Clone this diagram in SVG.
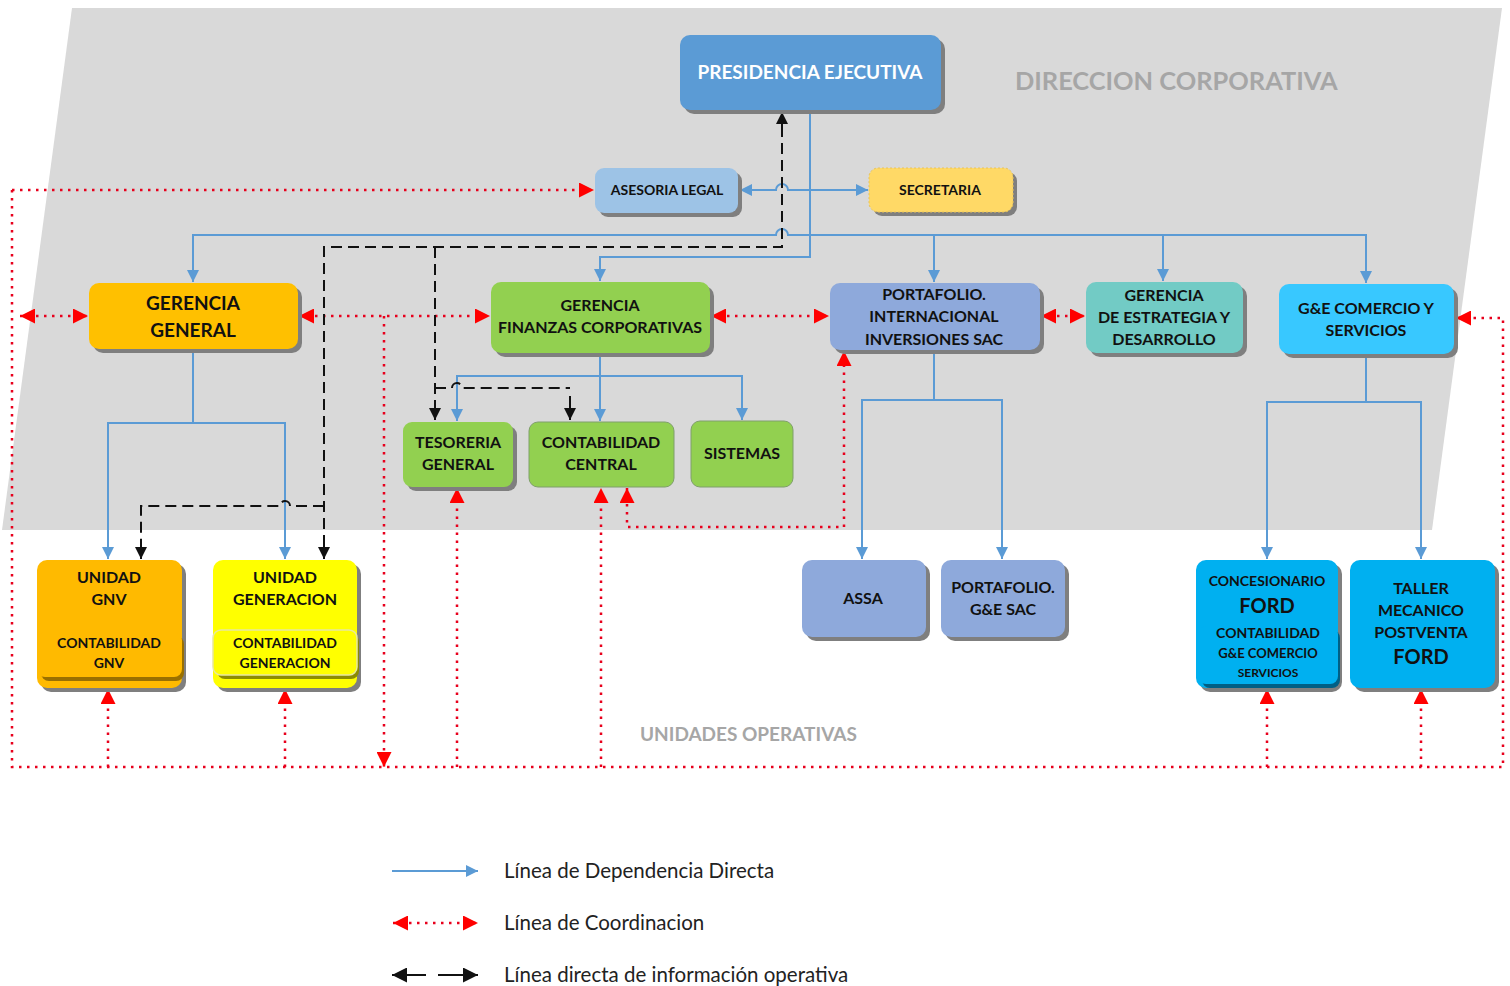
<svg xmlns="http://www.w3.org/2000/svg" width="1510" height="986" viewBox="0 0 1510 986">
<defs>
<style>
.t{font-family:Lato,"Open Sans","Liberation Sans",sans-serif;font-weight:bold;fill:#111;text-anchor:middle}
.w{fill:#fff}
.sh{fill:#7f7f7f}
.blue{fill:none;stroke:#5B9BD5;stroke-width:2}
.red{fill:none;stroke:#E8001C;stroke-width:2.5;stroke-dasharray:2.5 5.5}
.blk{fill:none;stroke:#111;stroke-width:2;stroke-dasharray:11 6}
.blks{fill:none;stroke:#111;stroke-width:2}
.lg{font-family:Lato,"Open Sans","Liberation Sans",sans-serif;font-size:20.5px;fill:#222}
.zone{font-family:Lato,"Open Sans","Liberation Sans",sans-serif;font-weight:bold;fill:#A6A6A6}
</style>
<marker id="ab" viewBox="0 0 10 10" refX="10" refY="5" markerWidth="12" markerHeight="12" markerUnits="userSpaceOnUse" orient="auto-start-reverse"><path d="M0,0 L10,5 L0,10 z" fill="#5B9BD5"/></marker>
<marker id="ar" viewBox="0 0 10 10" refX="10" refY="5" markerWidth="15" markerHeight="15" markerUnits="userSpaceOnUse" orient="auto-start-reverse"><path d="M0,0 L10,5 L0,10 z" fill="#FF0000"/></marker>
<marker id="ak" viewBox="0 0 10 10" refX="10" refY="5" markerWidth="12" markerHeight="12" markerUnits="userSpaceOnUse" orient="auto-start-reverse"><path d="M0,0 L10,5 L0,10 z" fill="#111"/></marker>
<marker id="akl" viewBox="0 0 10 10" refX="10" refY="5" markerWidth="15" markerHeight="15" markerUnits="userSpaceOnUse" orient="auto-start-reverse"><path d="M0,0 L10,5 L0,10 z" fill="#111"/></marker>
</defs>
<rect width="1510" height="986" fill="#fff"/>
<polygon points="72,8 1502,8 1432,530 2,530" fill="#D9D9D9"/>
<text class="zone" x="1015" y="90" font-size="25.4">DIRECCION CORPORATIVA</text>
<text class="zone" x="640" y="741" font-size="19">UNIDADES OPERATIVAS</text>

<g id="connectors">
<path class="blue" d="M810,112 V257 H600 V281" marker-end="url(#ab)"/>
<path class="blue" d="M810,235 H788 A6,6 0 0 0 776,235 H193 V282" marker-end="url(#ab)"/>
<path class="blue" d="M810,235 H1366 V283" marker-end="url(#ab)"/>
<path class="blue" d="M934,235 V282" marker-end="url(#ab)"/>
<path class="blue" d="M1163,235 V281" marker-end="url(#ab)"/>
<path class="blue" d="M810,190 H788 A6,6 0 0 0 776,190 H740" marker-end="url(#ab)"/>
<path class="blue" d="M810,190 H868" marker-end="url(#ab)"/>
<path class="blue" d="M600,353 V421" marker-end="url(#ab)"/>
<path class="blue" d="M600,376 H457 V421" marker-end="url(#ab)"/>
<path class="blue" d="M600,376 H742 V420" marker-end="url(#ab)"/>
<path class="blue" d="M193,349 V423 H108 V559" marker-end="url(#ab)"/>
<path class="blue" d="M193,423 H285 V559" marker-end="url(#ab)"/>
<path class="blue" d="M934,350 V400 H862 V559" marker-end="url(#ab)"/>
<path class="blue" d="M934,400 H1002 V559" marker-end="url(#ab)"/>
<path class="blue" d="M1366,354 V402 H1267 V559" marker-end="url(#ab)"/>
<path class="blue" d="M1366,402 H1421 V559" marker-end="url(#ab)"/>
<path class="red" d="M12,190 H594" marker-end="url(#ar)"/>
<path class="red" d="M12,190 V767 H1503 V318 H1456" marker-end="url(#ar)"/>
<path class="red" d="M20,316 H88" marker-start="url(#ar)" marker-end="url(#ar)"/>
<path class="red" d="M299,316 H490" marker-start="url(#ar)" marker-end="url(#ar)"/>
<path class="red" d="M384,316 V767" marker-end="url(#ar)"/>
<path class="red" d="M711,316 H829" marker-start="url(#ar)" marker-end="url(#ar)"/>
<path class="red" d="M1041,316 H1085" marker-start="url(#ar)" marker-end="url(#ar)"/>
<path class="red" d="M457,767 V488" marker-end="url(#ar)"/>
<path class="red" d="M601,767 V488" marker-end="url(#ar)"/>
<path class="red" d="M627,488 V527 H844 V351" marker-start="url(#ar)" marker-end="url(#ar)"/>
<path class="red" d="M108,767 V689" marker-end="url(#ar)"/>
<path class="red" d="M285,767 V689" marker-end="url(#ar)"/>
<path class="red" d="M1267,767 V689" marker-end="url(#ar)"/>
<path class="red" d="M1421,767 V689" marker-end="url(#ar)"/>
<path class="blk" d="M324,546 V247 H782 V124"/>
<path class="blks" d="M782,130 V112" marker-end="url(#ak)"/>
<path class="blks" d="M324,540 V559" marker-end="url(#ak)"/>
<path class="blk" d="M435,247 V405"/>
<path class="blks" d="M435,400 V420" marker-end="url(#ak)"/>
<path class="blk" d="M435,388 H452 A5,5 0 0 1 462,388 H570"/>
<path class="blks" d="M570,396 V420" marker-end="url(#ak)"/>
<path class="blk" d="M324,506 H290 A5,5 0 0 0 280,506 H141 V545"/>
<path class="blks" d="M141,541 V559" marker-end="url(#ak)"/>
</g>

<g id="presidencia"><rect class="sh" x="684" y="39" width="261" height="75" rx="10"/><rect x="680" y="35" width="261" height="75" rx="10" fill="#5B9BD5"/><text class="t w" x="810" y="79" font-size="19">PRESIDENCIA EJECUTIVA</text></g>
<g id="asesoria"><rect class="sh" x="599" y="172" width="143" height="45" rx="9"/><rect x="595" y="168" width="143" height="45" rx="9" fill="#9DC3E6"/><text class="t" x="667" y="195" font-size="14">ASESORIA LEGAL</text></g>
<g id="secretaria"><rect class="sh" x="873" y="172" width="144" height="44" rx="9"/><rect x="869" y="168" width="144" height="44" rx="9" fill="#FFD966" stroke="#E8C35A" stroke-dasharray="2 2"/><text class="t" x="940" y="195" font-size="14">SECRETARIA</text></g>
<g id="gerencia-general"><rect class="sh" x="93" y="287" width="209" height="66" rx="10"/><rect x="89" y="283" width="209" height="66" rx="10" fill="#FFC000"/><text class="t" x="193" y="310" font-size="19">GERENCIA</text><text class="t" x="193" y="337" font-size="19">GENERAL</text></g>
<g id="gerencia-finanzas"><rect class="sh" x="495" y="286" width="219" height="71" rx="10"/><rect x="491" y="282" width="219" height="71" rx="10" fill="#92D050"/><text class="t" x="600" y="311" font-size="16">GERENCIA</text><text class="t" x="600" y="333" font-size="16">FINANZAS CORPORATIVAS</text></g>
<g id="portafolio-internacional"><rect class="sh" x="834" y="287" width="210" height="67" rx="10"/><rect x="830" y="283" width="210" height="67" rx="10" fill="#8EA9DB"/><text class="t" x="934" y="300" font-size="16">PORTAFOLIO.</text><text class="t" x="934" y="322" font-size="16">INTERNACIONAL</text><text class="t" x="934" y="345" font-size="16">INVERSIONES SAC</text></g>
<g id="gerencia-estrategia"><rect class="sh" x="1090" y="286" width="157" height="71" rx="10"/><rect x="1086" y="282" width="157" height="71" rx="10" fill="#72CBC5"/><text class="t" x="1164" y="301" font-size="16">GERENCIA</text><text class="t" x="1164" y="323" font-size="16">DE ESTRATEGIA Y</text><text class="t" x="1164" y="345" font-size="16">DESARROLLO</text></g>
<g id="ge-comercio"><rect class="sh" x="1283" y="288" width="175" height="70" rx="10"/><rect x="1279" y="284" width="175" height="70" rx="10" fill="#38C8FF"/><text class="t" x="1366" y="314" font-size="16">G&amp;E COMERCIO Y</text><text class="t" x="1366" y="336" font-size="16">SERVICIOS</text></g>
<g id="tesoreria"><rect class="sh" x="407" y="426" width="110" height="65" rx="9"/><rect x="403" y="422" width="110" height="65" rx="9" fill="#92D050"/><text class="t" x="458" y="448" font-size="16">TESORERIA</text><text class="t" x="458" y="470" font-size="16">GENERAL</text></g>
<g id="contabilidad-central"><rect x="529" y="422" width="145" height="65" rx="9" fill="#92D050" stroke="#7F9F6A" stroke-width="1"/><text class="t" x="601" y="448" font-size="16">CONTABILIDAD</text><text class="t" x="601" y="470" font-size="16">CENTRAL</text></g>
<g id="sistemas"><rect x="691" y="421" width="102" height="66" rx="9" fill="#92D050" stroke="#7F9F6A" stroke-width="1"/><text class="t" x="742" y="459" font-size="16">SISTEMAS</text></g>
<g id="unidad-gnv"><rect class="sh" x="41" y="564" width="145" height="128" rx="10"/><rect x="37" y="560" width="145" height="128" rx="10" fill="#FFBA00"/><rect x="41" y="636" width="143" height="45" rx="8" fill="#9A7000"/><rect x="37" y="632" width="145" height="45" rx="8" fill="#FFBA00"/><text class="t" x="109" y="583" font-size="16">UNIDAD</text><text class="t" x="109" y="605" font-size="16">GNV</text><text class="t" x="109" y="648" font-size="14">CONTABILIDAD</text><text class="t" x="109" y="668" font-size="14">GNV</text></g>
<g id="unidad-generacion"><rect class="sh" x="217" y="564" width="144" height="128" rx="10"/><rect x="213" y="560" width="144" height="128" rx="10" fill="#FFFF00"/><rect x="217" y="634" width="142" height="45" rx="8" fill="#8C8C00"/><rect x="213" y="630" width="144" height="45" rx="8" fill="#FFFF00" stroke="#E8E8A0" stroke-width="1.5"/><text class="t" x="285" y="583" font-size="16">UNIDAD</text><text class="t" x="285" y="605" font-size="16">GENERACION</text><text class="t" x="285" y="648" font-size="14">CONTABILIDAD</text><text class="t" x="285" y="668" font-size="14">GENERACION</text></g>
<g id="assa"><rect class="sh" x="806" y="564" width="124" height="77" rx="10"/><rect x="802" y="560" width="124" height="77" rx="10" fill="#8EA9DB"/><text class="t" x="863" y="604" font-size="16">ASSA</text></g>
<g id="portafolio-ge"><rect class="sh" x="945" y="564" width="124" height="77" rx="10"/><rect x="941" y="560" width="124" height="77" rx="10" fill="#8EA9DB"/><text class="t" x="1003" y="593" font-size="16">PORTAFOLIO.</text><text class="t" x="1003" y="615" font-size="16">G&amp;E SAC</text></g>
<g id="concesionario"><rect class="sh" x="1200" y="564" width="142" height="128" rx="10"/><rect x="1196" y="560" width="142" height="128" rx="10" fill="#00B0F0"/><rect x="1202" y="630" width="138" height="58" rx="8" fill="#005F85"/><rect x="1198" y="626" width="140" height="58" rx="8" fill="#00B0F0"/><text class="t" x="1267" y="586" font-size="14">CONCESIONARIO</text><text class="t" x="1267" y="613" font-size="20">FORD</text><text class="t" x="1268" y="638" font-size="14">CONTABILIDAD</text><text class="t" x="1268" y="658" font-size="13">G&amp;E COMERCIO</text><text class="t" x="1268" y="677" font-size="12">SERVICIOS</text></g>
<g id="taller"><rect class="sh" x="1354" y="564" width="145" height="128" rx="10"/><rect x="1350" y="560" width="145" height="128" rx="10" fill="#00B0F0"/><text class="t" x="1421" y="594" font-size="16">TALLER</text><text class="t" x="1421" y="616" font-size="16">MECANICO</text><text class="t" x="1421" y="638" font-size="16">POSTVENTA</text><text class="t" x="1421" y="664" font-size="20">FORD</text></g>

<g id="legend">
<path class="blue" d="M392,871 H478" marker-end="url(#ab)"/>
<path class="red" d="M393,923 H478" marker-start="url(#ar)" marker-end="url(#ar)"/>
<path class="blks" stroke-width="3" d="M426,975 H392" marker-end="url(#akl)"/>
<path class="blks" stroke-width="3" d="M438,975 H478" marker-end="url(#akl)"/>
<text class="lg" x="504" y="878">Línea de Dependencia Directa</text>
<text class="lg" x="504" y="930">Línea de Coordinacion</text>
<text class="lg" x="504" y="982">Línea directa de información operativa</text>
</g>
</svg>
